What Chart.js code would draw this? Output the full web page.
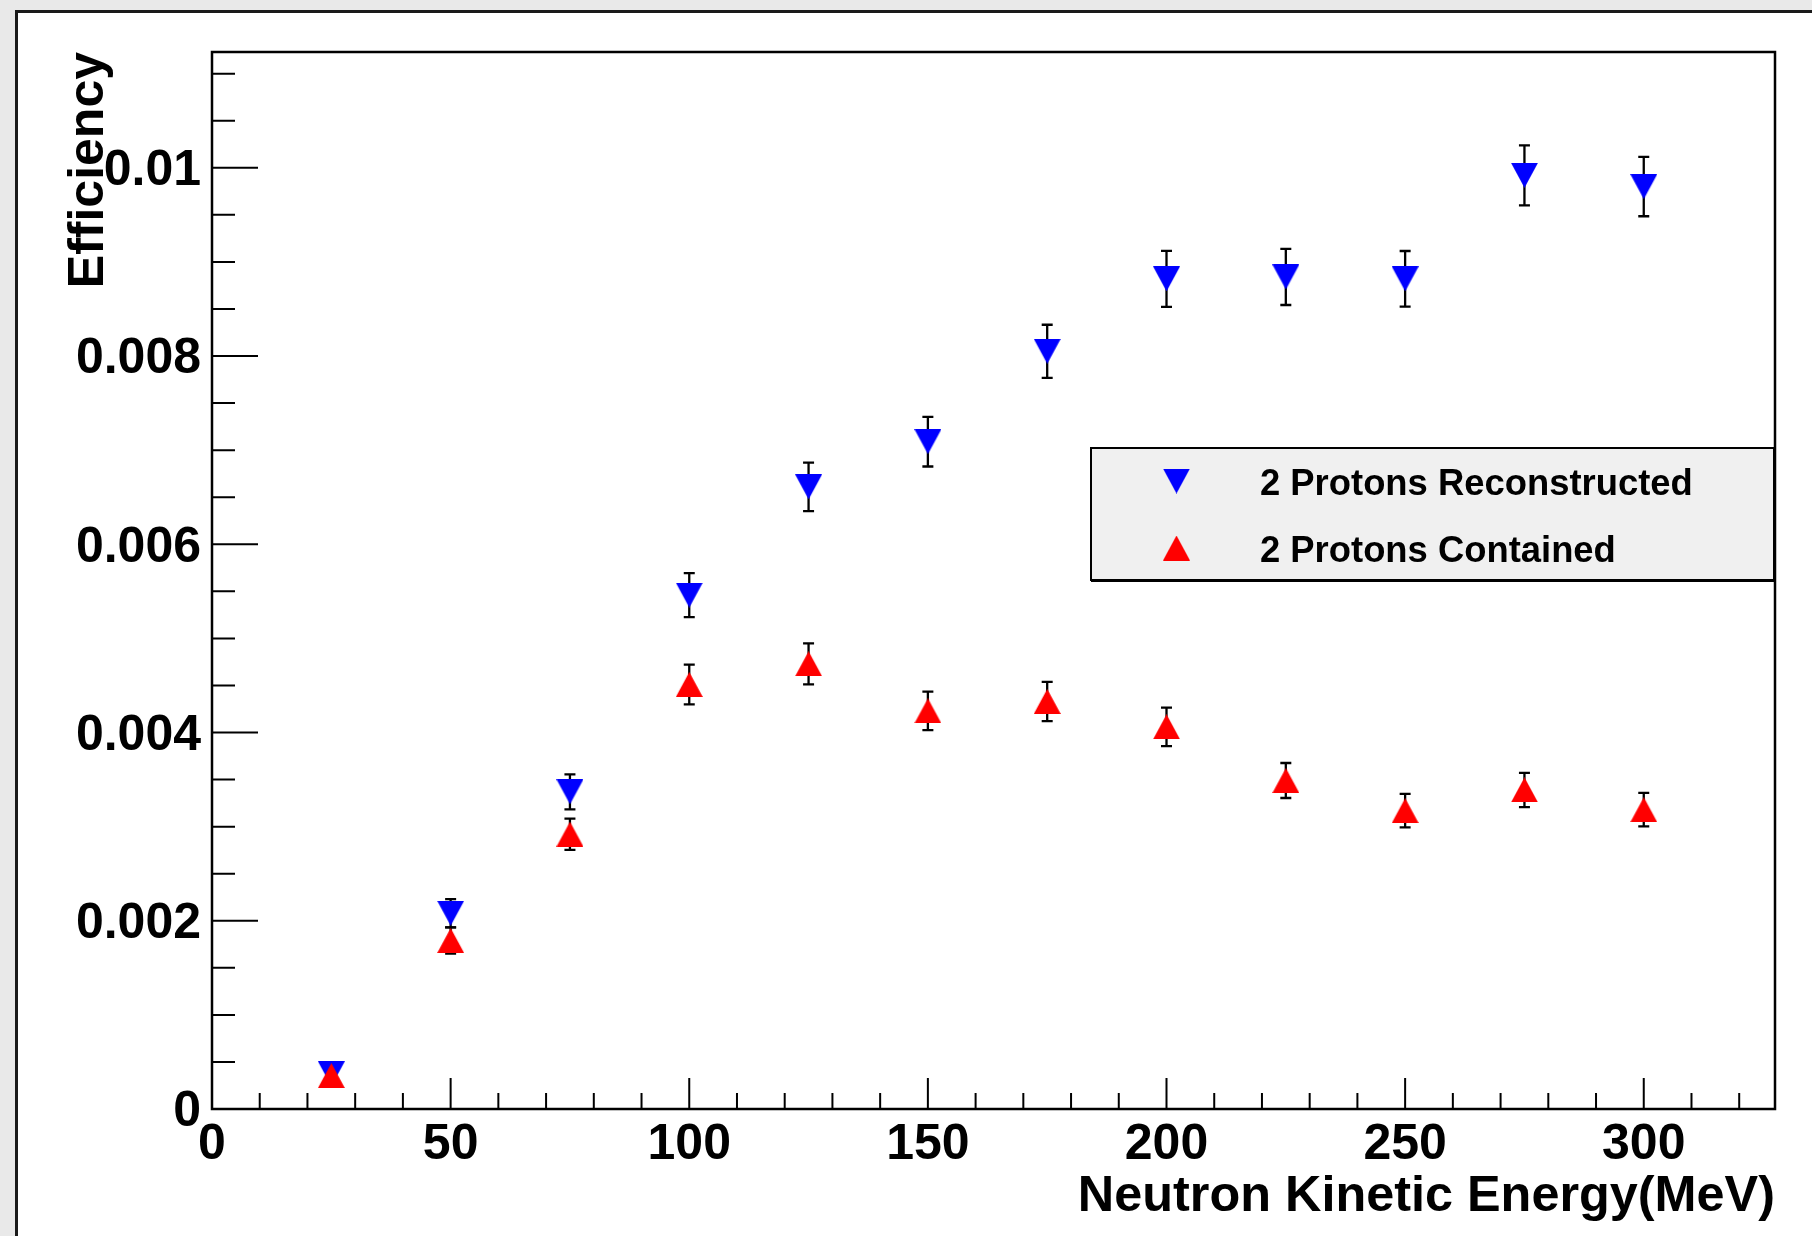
<!DOCTYPE html>
<html><head><meta charset="utf-8">
<script src="https://cdn.jsdelivr.net/npm/chart.js@4/dist/chart.umd.min.js"></script>
<style>html,body{margin:0;padding:0;background:#e9e9e9;overflow:hidden}canvas{display:block}</style>
</head><body>
<canvas id="c" width="1812" height="1236"></canvas>
<script>
// ---- data ----
const energies = [25, 50, 75, 100, 125, 150, 175, 200, 225, 250, 275, 300];
const reconstructed = [0.000375, 0.00208, 0.00337, 0.00546, 0.00661, 0.00709, 0.00805, 0.00882, 0.00884, 0.00882, 0.00992, 0.00980];
const reconstructedErr = [0.00005, 0.00015, 0.000186, 0.000234, 0.000257, 0.000264, 0.000282, 0.000298, 0.000298, 0.000296, 0.000319, 0.000315];
const contained = [0.000355, 0.00179, 0.00292, 0.00451, 0.00473, 0.00423, 0.00433, 0.00406, 0.00349, 0.00317, 0.00339, 0.00318];
const containedErr = [0.00005, 0.00014, 0.000166, 0.000212, 0.000218, 0.000205, 0.000209, 0.000205, 0.000186, 0.000177, 0.000182, 0.000178];
const seriesLabels = ['2 Protons Reconstructed', '2 Protons Contained'];
const xTickValues = [0, 50, 100, 150, 200, 250, 300];
const xTickLabels = ['0', '50', '100', '150', '200', '250', '300'];
const yTickValues = [0, 0.002, 0.004, 0.006, 0.008, 0.01];
const yTickLabels = ['0', '0.002', '0.004', '0.006', '0.008', '0.01'];
const xRange = [0, 327.5];
const yRange = [0, 0.01123];
const xMinorStep = 10;
const yMinorStep = 0.0005;
const xTitle = 'Neutron Kinetic Energy(MeV)';
const yTitle = 'Efficiency';

// ---- styling ----
const FONT = "'Liberation Sans', Arial, Helvetica, sans-serif";
const W = 1812, H = 1236;
function triangle(color, up) {
  const c = document.createElement('canvas');
  c.width = 27; c.height = 25;
  const g = c.getContext('2d');
  g.fillStyle = color;
  g.beginPath();
  if (up) { g.moveTo(13.5, 0); g.lineTo(27, 25); g.lineTo(0, 25); }
  else { g.moveTo(0, 0); g.lineTo(27, 0); g.lineTo(13.5, 25); }
  g.closePath(); g.fill();
  return c;
}
const blueTri = triangle('#0000ff', false);
const redTri = triangle('#ff0000', true);

const bgPlugin = {
  id: 'bg',
  beforeDraw(chart) {
    const ctx = chart.ctx;
    ctx.save();
    ctx.fillStyle = '#e9e9e9'; ctx.fillRect(0, 0, W, H);
    ctx.fillStyle = '#ffffff'; ctx.fillRect(17, 12, W, H);
    ctx.strokeStyle = '#1a1a1a'; ctx.lineWidth = 3;
    ctx.beginPath(); ctx.moveTo(16.5, H); ctx.lineTo(16.5, 11.5); ctx.lineTo(W, 11.5); ctx.stroke();
    ctx.restore();
  }
};

const framePlugin = {
  id: 'frame',
  beforeDatasetsDraw(chart) {
    const ctx = chart.ctx, {left, right, top, bottom} = chart.chartArea;
    const xs = chart.scales.x, ys = chart.scales.y;
    ctx.save();
    ctx.strokeStyle = '#000';
    ctx.lineWidth = 2.5;
    ctx.strokeRect(left, top, right - left, bottom - top);
    ctx.lineWidth = 2;
    ctx.beginPath();
    for (let i = 0; ; i++) {
      const v = xRange[0] + i * xMinorStep;
      if (v > xRange[1] + 1e-9) break;
      const px = xs.getPixelForValue(v);
      const major = i % 5 === 0;
      ctx.moveTo(px, bottom); ctx.lineTo(px, bottom - (major ? 31 : 16));
    }
    for (let i = 0; ; i++) {
      const v = yRange[0] + i * yMinorStep;
      if (v > yRange[1] + 1e-12) break;
      const py = ys.getPixelForValue(v);
      const major = i % 4 === 0;
      ctx.moveTo(left, py); ctx.lineTo(left + (major ? 46 : 23), py);
    }
    ctx.stroke();
    // error bars
    ctx.lineWidth = 2.3;
    chart.data.datasets.forEach((ds) => {
      ds.errors.forEach((e, j) => {
        const px = xs.getPixelForValue(energies[j]);
        const yl = ys.getPixelForValue(ds.data[j].y - e);
        const yh = ys.getPixelForValue(ds.data[j].y + e);
        ctx.beginPath();
        ctx.moveTo(px, yl); ctx.lineTo(px, yh);
        ctx.moveTo(px - 5.5, yl); ctx.lineTo(px + 5.5, yl);
        ctx.moveTo(px - 5.5, yh); ctx.lineTo(px + 5.5, yh);
        ctx.stroke();
      });
    });
    ctx.restore();
  }
};

const legendPlugin = {
  id: 'rootLegend',
  afterDraw(chart) {
    const ctx = chart.ctx;
    const x0 = 1091, y0 = 448, x1 = 1774, y1 = 580;
    ctx.save();
    ctx.fillStyle = '#f0f0f0';
    ctx.fillRect(x0, y0, x1 - x0, y1 - y0);
    ctx.strokeStyle = '#000'; ctx.lineWidth = 2;
    ctx.strokeRect(x0, y0, x1 - x0, y1 - y0);
    ctx.lineWidth = 3;
    ctx.beginPath(); ctx.moveTo(x0, y1 + 0.5); ctx.lineTo(x1, y1 + 0.5); ctx.stroke();
    const rows = [481, 548];
    ctx.font = 'bold 36.4px ' + FONT;
    ctx.fillStyle = '#000';
    ctx.textBaseline = 'middle';
    ctx.textAlign = 'left';
    [0, 1].forEach((di, r) => {
      const ds = chart.data.datasets[di];
      const img = ds.pointStyle;
      ctx.drawImage(img, 1176.5 - img.width / 2, rows[r] - img.height / 2);
      ctx.fillText(ds.label, 1260, rows[r] + 3.5);
    });
    ctx.restore();
  }
};

const tickFont = {family: FONT, size: 50, weight: 'bold', lineHeight: 1.2};

new Chart(document.getElementById('c'), {
  type: 'scatter',
  data: {
    datasets: [
      {
        label: seriesLabels[0],
        data: energies.map((x, i) => ({x, y: reconstructed[i]})),
        errors: reconstructedErr,
        pointStyle: blueTri,
        order: 1,
        showLine: false
      },
      {
        label: seriesLabels[1],
        data: energies.map((x, i) => ({x, y: contained[i]})),
        errors: containedErr,
        pointStyle: redTri,
        order: 0,
        showLine: false
      }
    ]
  },
  options: {
    responsive: false,
    devicePixelRatio: 1,
    animation: false,
    events: [],
    layout: {padding: {top: 52, right: 37, bottom: 0, left: 0}},
    plugins: {legend: {display: false}, tooltip: {enabled: false}},
    scales: {
      x: {
        type: 'linear', position: 'bottom',
        min: xRange[0], max: xRange[1],
        afterBuildTicks: s => { s.ticks = xTickValues.map(v => ({value: v})); },
        afterFit: s => { s.height = 127; },
        grid: {display: false, drawTicks: false},
        border: {display: false},
        ticks: {
          font: tickFont, color: '#000', padding: 6.5, maxRotation: 0, autoSkip: false,
          callback: (v) => { const k = xTickValues.indexOf(v); return k >= 0 ? xTickLabels[k] : ''; }
        },
        title: {display: true, text: xTitle, align: 'end', color: '#000',
          font: {family: FONT, size: 50.4, weight: 'bold', lineHeight: 1.2}, padding: {top: 0, bottom: 8.5}}
      },
      y: {
        type: 'linear', position: 'left',
        min: yRange[0], max: yRange[1],
        afterBuildTicks: s => { s.ticks = yTickValues.map(v => ({value: v})); },
        afterFit: s => { s.width = 212; },
        grid: {display: false, drawTicks: false},
        border: {display: false},
        ticks: {
          font: tickFont, color: '#000', padding: 11, autoSkip: false, labelOffset: 3.5,
          callback: (v) => { const k = yTickValues.findIndex(t => Math.abs(t - v) < 1e-12); return k >= 0 ? yTickLabels[k] : ''; }
        },
        title: {display: true, text: yTitle, align: 'end', color: '#000',
          font: {family: FONT, size: 50, weight: 'bold', lineHeight: 1.2}, padding: {top: 59.5, bottom: 0}}
      }
    }
  },
  plugins: [bgPlugin, framePlugin, legendPlugin]
});
</script>
</body></html>
